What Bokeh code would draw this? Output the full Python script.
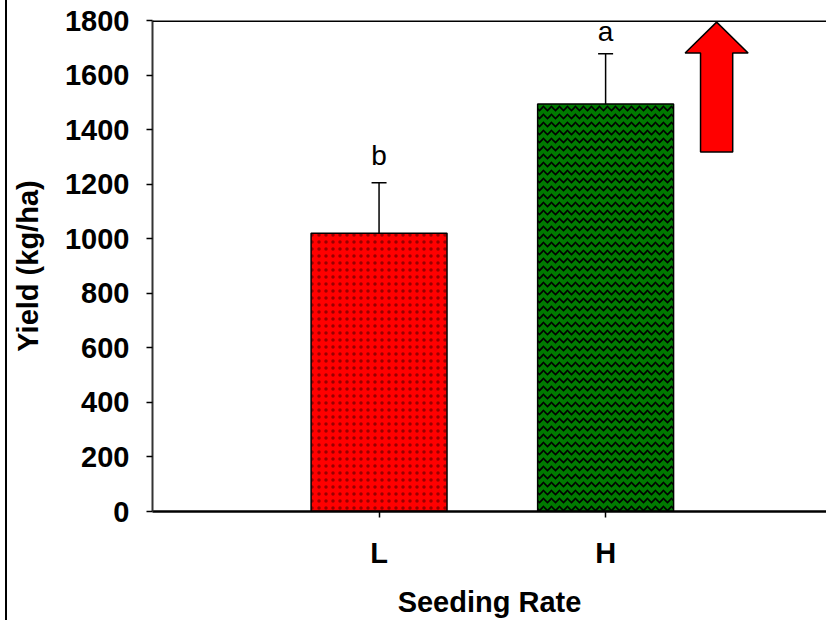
from bokeh.plotting import figure
from bokeh.models import (ColumnDataSource, Range1d, FixedTicker, Whisker, TeeHead,
                          Span, Div)
from bokeh.layouts import row
from bokeh.core.properties import value
from bokeh.embed import file_html
from bokeh.resources import INLINE

# ---- data ----
categories = ["L", "H"]
cat_pos = [1, 2]
yields = [1020, 1494]
errors = [185, 184]
letters = ["b", "a"]
letter_y = [1305, 1758]
fill_colors = ["#ff0000", "#007a00"]
hatches = ["dot", "horizontal_wave"]
hatch_scales = [7, 8]
hatch_alphas = [0.4, 1.0]
hatch_weights = [1.0, 1.6]
y_ticks = [0, 200, 400, 600, 800, 1000, 1200, 1400, 1600, 1800]
# decorative arrow (data units)
arrow_x = 2.49
arrow_bottom = 1318
arrow_head_base = 1681
arrow_tip = 1794
arrow_shaft_half = 0.071
arrow_head_half = 0.139

FONT = "Liberation Sans"

src = ColumnDataSource(dict(
    x=cat_pos, top=yields, upper=[v + e for v, e in zip(yields, errors)],
    color=fill_colors, hatch=hatches, hs=hatch_scales, ha=hatch_alphas,
    hw=hatch_weights,
))

p = figure(width=819, height=620, output_backend="svg", toolbar_location=None,
           x_range=Range1d(0, 2.975), y_range=Range1d(0, 1800),
           min_border_left=145, min_border_right=0, min_border_top=20,
           min_border_bottom=108, margin=0)
p.outline_line_color = None
p.xgrid.visible = False
p.ygrid.visible = False
p.background_fill_color = "white"

p.vbar(x="x", top="top", width=0.6, bottom=0, source=src,
       fill_color="color", line_color="black", line_width=1.5,
       hatch_pattern="hatch", hatch_color="black", hatch_scale="hs",
       hatch_alpha="ha", hatch_weight="hw")

w = Whisker(base="x", lower="top", upper="upper", source=src, dimension="height",
            line_color="black", line_width=1.5, lower_head=None,
            upper_head=TeeHead(size=15, line_color="black", line_width=1.5))
p.add_layout(w)

p.text(x=cat_pos, y=letter_y, text=letters, text_font=value(FONT),
       text_font_size="28px", text_align="center", text_baseline="alphabetic",
       text_color="black")

ax = [arrow_x - arrow_shaft_half, arrow_x - arrow_shaft_half, arrow_x - arrow_head_half,
      arrow_x, arrow_x + arrow_head_half, arrow_x + arrow_shaft_half,
      arrow_x + arrow_shaft_half]
ay = [arrow_bottom, arrow_head_base, arrow_head_base, arrow_tip, arrow_head_base,
      arrow_head_base, arrow_bottom]
p.patch(ax, ay, fill_color="#ff0000", line_color="black", line_width=1.5)

p.add_layout(Span(location=1800, dimension="width", line_color="black", line_width=3))

# axes
p.xaxis.ticker = FixedTicker(ticks=cat_pos)
p.xaxis.major_label_overrides = {c: l for c, l in zip(cat_pos, categories)}
p.xaxis.axis_label = "Seeding Rate"
p.yaxis.ticker = FixedTicker(ticks=y_ticks)
p.yaxis.axis_label = "Yield (kg/ha)"
for a in (p.xaxis, p.yaxis):
    a.major_label_text_font = FONT
    a.major_label_text_font_style = "bold"
    a.major_label_text_font_size = "29px"
    a.major_label_text_color = "black"
    a.axis_label_text_font = FONT
    a.axis_label_text_font_style = "bold"
    a.axis_label_text_font_size = "29px"
    a.axis_label_text_color = "black"
    a.minor_tick_line_color = None
    a.major_tick_in = 0
    a.major_tick_out = 6
    a.major_tick_line_color = "black"
    a.major_tick_line_width = 1.5
p.xaxis.axis_line_width = 2.5
p.xaxis.axis_line_color = "black"
p.yaxis.axis_line_width = 2
p.yaxis.axis_line_color = "#333333"
p.yaxis.major_label_standoff = 17
p.yaxis.axis_label_standoff = 18
p.xaxis.major_label_standoff = 19
p.xaxis.axis_label_standoff = 14

# page border line on the left
edge = Div(text="", width=7, height=620, margin=0,
           styles={"border-right": "2px solid black", "box-sizing": "border-box"})

layout = row(edge, p, spacing=0, margin=0)
open("out.html", "w").write(file_html(layout, INLINE))
